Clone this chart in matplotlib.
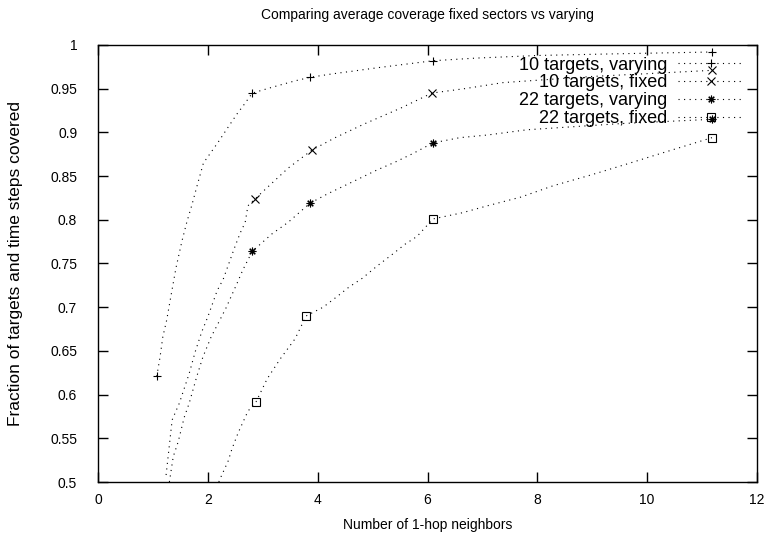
import matplotlib
matplotlib.use("Agg")
import matplotlib.pyplot as plt
from matplotlib.ticker import FuncFormatter

plt.rcParams['font.family'] = ['Liberation Sans', 'DejaVu Sans']

# 10 targets, varying
x_10v = [1.07, 1.13, 1.18, 1.25, 1.34, 1.42, 1.53, 1.62, 1.71, 1.80, 1.92, 2.19, 2.38,
         2.53, 2.65, 2.81, 3.19, 3.59, 3.86, 4.27, 4.63, 5.09, 5.47, 6.10, 6.88, 8.0,
         9.5, 11.18]
y_10v = [0.621, 0.643, 0.666, 0.685, 0.717, 0.745, 0.776, 0.798, 0.817, 0.838, 0.865,
         0.889, 0.907, 0.921, 0.931, 0.945, 0.952, 0.959, 0.963, 0.967, 0.970, 0.974,
         0.977, 0.982, 0.985, 0.988, 0.990, 0.992]
mx_10v = [1.07, 2.81, 3.86, 6.10, 11.18]
my_10v = [0.621, 0.945, 0.963, 0.982, 0.992]

# 10 targets, fixed
x_10f = [1.24, 1.35, 1.48, 1.66, 1.77, 1.89, 2.00, 2.17, 2.28, 2.48, 2.59, 2.68, 2.73,
         2.86, 3.46, 3.90, 4.32, 4.86, 5.52, 6.08, 6.67, 7.38, 9.0, 11.18]
y_10f = [0.508, 0.571, 0.590, 0.624, 0.649, 0.672, 0.689, 0.719, 0.732, 0.767, 0.785,
         0.797, 0.816, 0.824, 0.859, 0.880, 0.894, 0.910, 0.928, 0.945, 0.950, 0.957,
         0.964, 0.971]
mx_10f = [2.86, 3.90, 6.08, 11.18]
my_10f = [0.824, 0.880, 0.945, 0.971]

# 22 targets, varying
x_22v = [1.30, 1.37, 1.46, 1.57, 1.66, 1.80, 1.91, 2.06, 2.20, 2.33, 2.53, 2.64, 2.81,
         3.17, 3.46, 3.86, 4.19, 4.72, 5.08, 5.41, 5.74, 6.10, 6.59, 7.09, 7.81, 9.5,
         11.18]
y_22v = [0.500, 0.529, 0.546, 0.574, 0.590, 0.621, 0.643, 0.666, 0.683, 0.699, 0.727,
         0.743, 0.764, 0.784, 0.797, 0.819, 0.830, 0.846, 0.857, 0.866, 0.876, 0.888,
         0.894, 0.897, 0.903, 0.910, 0.915]
mx_22v = [2.81, 3.86, 6.10, 11.18]
my_22v = [0.764, 0.819, 0.888, 0.915]

# 22 targets, fixed
x_22f = [2.20, 2.24, 2.37, 2.44, 2.55, 2.73, 2.88, 3.08, 3.32, 3.59, 3.79, 4.10, 4.37,
         4.57, 4.81, 5.08, 5.37, 5.59, 5.81, 6.10, 6.63, 7.09, 7.70, 8.29, 8.96, 9.64,
         10.20, 10.82, 11.18]
y_22f = [0.500, 0.506, 0.524, 0.538, 0.556, 0.581, 0.592, 0.618, 0.641, 0.664, 0.690,
         0.700, 0.713, 0.723, 0.733, 0.747, 0.761, 0.772, 0.781, 0.801, 0.808, 0.816,
         0.826, 0.839, 0.851, 0.864, 0.875, 0.887, 0.894]
mx_22f = [2.88, 3.79, 6.10, 11.18]
my_22f = [0.592, 0.690, 0.801, 0.894]

series = [
    ("10 targets, varying", x_10v, y_10v, mx_10v, my_10v, '+'),
    ("10 targets, fixed", x_10f, y_10f, mx_10f, my_10f, 'x'),
    ("22 targets, varying", x_22v, y_22v, mx_22v, my_22v, (8, 2, 0)),
    ("22 targets, fixed", x_22f, y_22f, mx_22f, my_22f, 's'),
]

fig = plt.figure(figsize=(7.68, 5.43), dpi=100)
ax = fig.add_axes([98 / 768, 61 / 543, 659 / 768, 437 / 543])

dots = (0, (1, 4))
for label, xs, ys, mxs, mys, mk in series:
    ax.plot(xs, ys, color='black', lw=0.8, ls=dots)
    ax.plot(mxs, mys, ls='none', marker=mk, ms=5.5, mew=0.8,
            mfc='none', mec='black')
    # legend sample
    ax.plot([], [], color='black', lw=0.8, ls=dots, marker=mk, ms=5.5, mew=0.8,
            mfc='none', mec='black', label=label)

ax.set_xlim(0, 12)
ax.set_ylim(0.5, 1.0)
ax.set_xticks(range(0, 13, 2))
ax.set_yticks([0.5, 0.55, 0.6, 0.65, 0.7, 0.75, 0.8, 0.85, 0.9, 0.95, 1.0])
ax.yaxis.set_major_formatter(FuncFormatter(lambda v, p: '%g' % round(v, 2)))
ax.tick_params(direction='in', top=True, right=True, length=7, width=1,
               labelsize=10)
ax.tick_params(axis='y', pad=15)
ax.tick_params(axis='x', pad=8)
for s in ax.spines.values():
    s.set_linewidth(1)

ax.set_title("Comparing average coverage fixed sectors vs varying", fontsize=10, pad=19)
ax.set_xlabel("Number of 1-hop neighbors", fontsize=10, labelpad=8)
ax.set_ylabel("Fraction of targets and time steps covered", fontsize=12.5)
ax.yaxis.set_label_coords(-(98 - 23) / 659, 0.5)

ax.legend(loc='upper right', bbox_to_anchor=(0.99, 0.99), frameon=False,
          markerfirst=False, fontsize=13, handlelength=3.6, labelspacing=0.05,
          borderaxespad=0, handletextpad=0.6)

fig.savefig("out.png", dpi=100)
